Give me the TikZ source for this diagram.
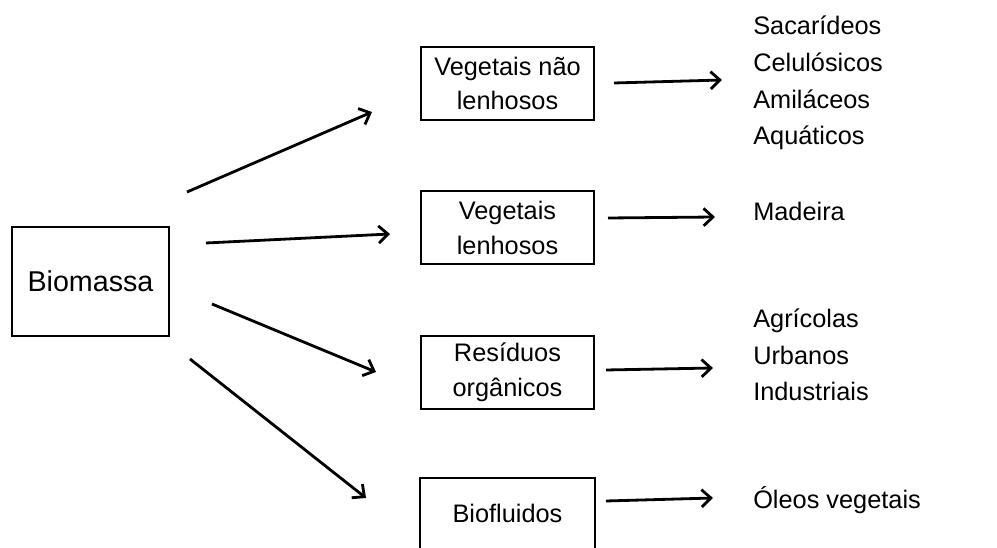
\documentclass[tikz,border=0pt]{standalone}
\usepackage{fontspec}
\setmainfont{Liberation Sans}
\usetikzlibrary{arrows.meta}
\begin{document}
\begin{tikzpicture}[x=0.75pt,y=-0.75pt,
  boxnode/.style={draw,line width=1.5pt,minimum width=173*0.75pt,minimum height=73*0.75pt,align=center,inner sep=0pt,font=\fontsize{19}{26}\selectfont},
  listnode/.style={anchor=west,align=left,inner sep=0pt,font=\fontsize{19}{27.5}\selectfont},
  arr/.style={line width=2.1pt,-{Straight Barb[length=7pt,width=13pt,line width=2.1pt]}}]
\useasboundingbox (0,0) rectangle (997,548);
% boxes
\node[boxnode,minimum width=157*0.75pt,minimum height=109*0.75pt,font=\fontsize{21.5}{26}\selectfont] (bio) at (90.5,281.5) {Biomassa};
\node[boxnode] (vnl) at (507.5,83.5) {Vegetais não\\lenhosos};
\node[boxnode] (vl) at (507.5,228) {Vegetais\\lenhosos};
\node[boxnode] (ro) at (507.5,372.5) {Resíduos\\orgânicos};
\node[boxnode,draw=none,minimum height=69*0.75pt] (bf) at (507.5,513.5) {Biofluidos};
\draw[line width=1.5pt] (bf.south west) -- (bf.north west) -- (bf.north east) -- (bf.south east);
% lists
\node[listnode] (l1) at (753,83) {Sacarídeos\\Celulósicos\\Amiláceos\\Aquáticos};
\node[listnode] (l2) at (753,211) {Madeira};
\node[listnode] (l3) at (753,355) {Agrícolas\\Urbanos\\Industriais};
\node[listnode] (l4) at (753,500) {Óleos vegetais};
% coordinates for connector ends
\coordinate (b1) at (187,192); \coordinate (e1) at (372,112);
\coordinate (b2) at (206,243); \coordinate (e2) at (390,234);
\coordinate (b3) at (212,304); \coordinate (e3) at (376,372);
\coordinate (b4) at (190,359); \coordinate (e4) at (366,498);
\coordinate (r1s) at (614,83); \coordinate (r1e) at (722,80);
\coordinate (r2s) at (608,218); \coordinate (r2e) at (715,217);
\coordinate (r3s) at (606,370); \coordinate (r3e) at (713,368);
\coordinate (r4s) at (606,501); \coordinate (r4e) at (713,498);
% connectors
\draw[arr] (b1) -- (e1);
\draw[arr] (b2) -- (e2);
\draw[arr] (b3) -- (e3);
\draw[arr] (b4) -- (e4);
\draw[arr] (r1s) -- (r1e);
\draw[arr] (r2s) -- (r2e);
\draw[arr] (r3s) -- (r3e);
\draw[arr] (r4s) -- (r4e);
\end{tikzpicture}
\end{document}
